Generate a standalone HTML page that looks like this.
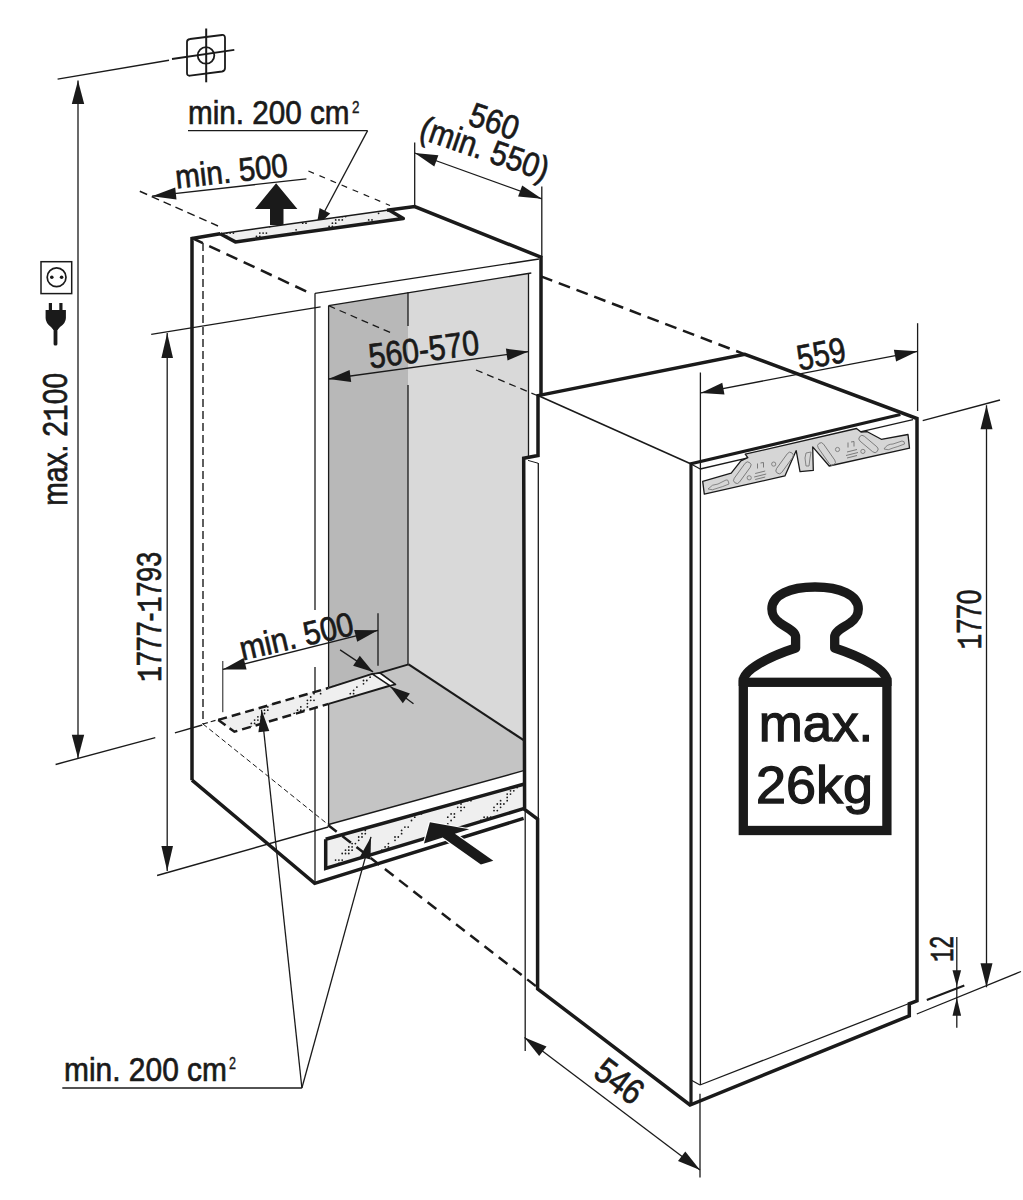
<!DOCTYPE html>
<html><head><meta charset="utf-8"><style>
html,body{margin:0;padding:0;background:#fff;}
svg{display:block;}
text{font-family:"Liberation Sans",sans-serif;fill:#1a1a1a;stroke:#1a1a1a;stroke-width:0.7px;}
.m{font-family:"Liberation Mono",monospace;}
</style></head><body>
<svg width="1023" height="1200" viewBox="0 0 1023 1200">
<polygon points="408.0,292.2 528.5,273.0 528.5,458.0 523.5,458.0 523.5,740.2 408.6,664.4" fill="#d9d9d9" stroke="none" stroke-width="0" stroke-linejoin="miter"/>
<polygon points="328.6,305.7 408.0,292.2 408.6,664.4 328.4,688.0" fill="#b8b8b8" stroke="none" stroke-width="0" stroke-linejoin="miter"/>
<polygon points="328.4,688.0 408.6,664.4 523.6,740.2 523.6,770.7 328.6,824.5" fill="#c4c4c4" stroke="none" stroke-width="0" stroke-linejoin="miter"/>
<line x1="328.6" y1="305.7" x2="531.3" y2="273" stroke="#1a1a1a" stroke-width="1.3" stroke-linecap="butt"/>
<line x1="328.6" y1="305.7" x2="328.6" y2="824.5" stroke="#1a1a1a" stroke-width="1.3" stroke-linecap="butt"/>
<line x1="528.5" y1="273" x2="528.5" y2="458" stroke="#1a1a1a" stroke-width="1.3" stroke-linecap="butt"/>
<line x1="408.6" y1="664.4" x2="523.6" y2="740.2" stroke="#1a1a1a" stroke-width="2.2" stroke-linecap="butt"/>
<line x1="328.6" y1="824.5" x2="523.6" y2="770.7" stroke="#1a1a1a" stroke-width="1.3" stroke-linecap="butt"/>
<line x1="408" y1="292.2" x2="408" y2="326" stroke="#1a1a1a" stroke-width="1.3" stroke-linecap="butt"/>
<line x1="408" y1="385" x2="408" y2="664.4" stroke="#1a1a1a" stroke-width="1.3" stroke-linecap="butt"/>
<line x1="328.6" y1="305.7" x2="390.5" y2="332.6" stroke="#1a1a1a" stroke-width="1.3" stroke-linecap="butt" stroke-dasharray="7,5"/>
<line x1="476" y1="370" x2="538" y2="395.8" stroke="#1a1a1a" stroke-width="1.3" stroke-linecap="butt" stroke-dasharray="7,5"/>
<line x1="57.6" y1="79.1" x2="169" y2="60.3" stroke="#1a1a1a" stroke-width="1.4" stroke-linecap="butt"/>
<line x1="172" y1="59" x2="234.3" y2="49.8" stroke="#1a1a1a" stroke-width="1.8" stroke-linecap="butt"/>
<path d="M190,39 L222,35 Q225,34.6 225,38 L225,68 Q225,71 222,71.5 L190,75.7 Q187,76 187,73 L187,42 Q187,39.3 190,39 Z" fill="none" stroke="#1a1a1a" stroke-width="1.8" stroke-linejoin="miter" stroke-linecap="butt"/>
<line x1="206.2" y1="28.5" x2="206.2" y2="82.3" stroke="#1a1a1a" stroke-width="2" stroke-linecap="butt"/>
<circle cx="206" cy="55.4" r="8.3" fill="none" stroke="#1a1a1a" stroke-width="1.8"/>
<line x1="78" y1="80.6" x2="78" y2="758.2" stroke="#1a1a1a" stroke-width="1.3" stroke-linecap="butt"/>
<polygon points="78.0,80.6 84.2,104.1 71.8,104.1" fill="#1a1a1a" stroke="none" stroke-width="0" stroke-linejoin="miter"/>
<polygon points="78.0,758.2 71.8,734.7 84.2,734.7" fill="#1a1a1a" stroke="none" stroke-width="0" stroke-linejoin="miter"/>
<text transform="translate(66.6,439.3) rotate(-90)" font-size="35" text-anchor="middle" font-weight="normal" textLength="133" lengthAdjust="spacingAndGlyphs">max. 2<tspan class="m">1</tspan>00</text>
<line x1="55.6" y1="764.5" x2="155.3" y2="737.7" stroke="#1a1a1a" stroke-width="1.3" stroke-linecap="butt"/>
<line x1="174.9" y1="732.8" x2="202.3" y2="725" stroke="#1a1a1a" stroke-width="1.3" stroke-linecap="butt"/>
<rect x="41" y="261.7" width="30.7" height="31.9" fill="none" stroke="#1a1a1a" stroke-width="1.5"/>
<circle cx="56.6" cy="277.3" r="9.4" fill="none" stroke="#1a1a1a" stroke-width="1.7"/>
<circle cx="51.8" cy="277.3" r="1.8" fill="#1a1a1a"/><circle cx="61.6" cy="277.3" r="1.8" fill="#1a1a1a"/>
<rect x="48.8" y="303" width="3.2" height="9" fill="#1a1a1a"/><rect x="59.3" y="303" width="3.2" height="9" fill="#1a1a1a"/>
<path d="M45.6,310 L65.9,310 L65.9,318 Q65.9,323 60,327 L57.5,330 L53.5,330 L51,327 Q45.6,323 45.6,318 Z" fill="#1a1a1a" stroke="#1a1a1a" stroke-width="0" stroke-linejoin="miter" stroke-linecap="butt"/>
<rect x="53.6" y="326" width="3.8" height="19.5" rx="1.5" fill="#1a1a1a"/>
<line x1="151.2" y1="334.4" x2="320.6" y2="306.8" stroke="#1a1a1a" stroke-width="1.3" stroke-linecap="butt"/>
<line x1="157.1" y1="875.5" x2="328.2" y2="827" stroke="#1a1a1a" stroke-width="1.3" stroke-linecap="butt"/>
<line x1="167.2" y1="333" x2="167.2" y2="871" stroke="#1a1a1a" stroke-width="1.3" stroke-linecap="butt"/>
<polygon points="167.2,333.0 173.0,358.0 161.4,358.0" fill="#1a1a1a" stroke="none" stroke-width="0" stroke-linejoin="miter"/>
<polygon points="167.2,871.0 161.4,846.0 173.0,846.0" fill="#1a1a1a" stroke="none" stroke-width="0" stroke-linejoin="miter"/>
<text transform="translate(160.7,617) rotate(-90)" font-size="35" text-anchor="middle" font-weight="normal" textLength="130" lengthAdjust="spacingAndGlyphs"><tspan class="m">1</tspan>777-<tspan class="m">1</tspan>793</text>
<text transform="translate(188,124) rotate(0)" font-size="34" text-anchor="start" font-weight="normal" textLength="161.5" lengthAdjust="spacingAndGlyphs">min. 200 cm</text>
<text transform="translate(352,112.5) rotate(0)" font-size="17" text-anchor="start" font-weight="normal" textLength="7.5" lengthAdjust="spacingAndGlyphs" style="stroke-width:0.4px">2</text>
<line x1="188" y1="130.6" x2="367.6" y2="130.6" stroke="#1a1a1a" stroke-width="1.3" stroke-linecap="butt"/>
<line x1="367.6" y1="130.6" x2="316.4" y2="226.7" stroke="#1a1a1a" stroke-width="1.3" stroke-linecap="butt"/>
<polygon points="316.4,226.7 319.6,208.0 330.2,213.6" fill="#1a1a1a" stroke="none" stroke-width="0" stroke-linejoin="miter"/>
<line x1="139.8" y1="191.3" x2="218" y2="226" stroke="#1a1a1a" stroke-width="1.5" stroke-linecap="butt" stroke-dasharray="8,5"/>
<line x1="308.4" y1="171" x2="390" y2="205.5" stroke="#1a1a1a" stroke-width="1.2" stroke-linecap="butt" stroke-dasharray="6,6"/>
<line x1="152" y1="196.2" x2="306.4" y2="178.8" stroke="#1a1a1a" stroke-width="1.3" stroke-linecap="butt"/>
<polygon points="152.0,196.2 175.2,187.6 176.5,199.5" fill="#1a1a1a" stroke="none" stroke-width="0" stroke-linejoin="miter"/>
<text transform="translate(232.7,182.3) rotate(-6.3)" font-size="33" text-anchor="middle" font-weight="normal" textLength="113" lengthAdjust="spacingAndGlyphs">min. 500</text>
<polygon points="276.1,183.2 297.4,208.9 283.5,208.9 283.5,225.0 270.0,225.0 270.0,208.9 255.0,208.9" fill="#1a1a1a" stroke="none" stroke-width="0" stroke-linejoin="miter"/>
<line x1="414.7" y1="142.5" x2="414.7" y2="206.6" stroke="#1a1a1a" stroke-width="1.3" stroke-linecap="butt"/>
<line x1="541.8" y1="186.5" x2="541.8" y2="257.2" stroke="#1a1a1a" stroke-width="1.3" stroke-linecap="butt"/>
<line x1="414.7" y1="153" x2="541.8" y2="198.8" stroke="#1a1a1a" stroke-width="1.3" stroke-linecap="butt"/>
<polygon points="414.7,153.0 438.4,155.2 434.3,166.4" fill="#1a1a1a" stroke="none" stroke-width="0" stroke-linejoin="miter"/>
<polygon points="541.8,198.8 518.1,196.6 522.2,185.4" fill="#1a1a1a" stroke="none" stroke-width="0" stroke-linejoin="miter"/>
<text transform="translate(490.5,132.5) rotate(19)" font-size="34" text-anchor="middle" font-weight="normal" textLength="50" lengthAdjust="spacingAndGlyphs">560</text>
<text transform="translate(481,159.5) rotate(19)" font-size="34" text-anchor="middle" font-weight="normal" textLength="134" lengthAdjust="spacingAndGlyphs">(min. 550)</text>
<polygon points="220.2,233.7 235.4,241.9 403.3,218.5 389.0,210.0" fill="#efefef" stroke="none" stroke-width="0" stroke-linejoin="miter"/>
<clipPath id="cp1"><polygon points="220.2,233.7 235.4,241.9 403.3,218.5 389.0,210.0"/></clipPath><g clip-path="url(#cp1)" fill="#1a1a1a"><circle cx="223.5" cy="210.0" r="0.9"/><circle cx="249.9" cy="210.0" r="0.9"/><circle cx="253.2" cy="210.0" r="0.9"/><circle cx="282.9" cy="210.0" r="0.9"/><circle cx="315.9" cy="210.0" r="0.9"/><circle cx="348.9" cy="210.0" r="0.9"/><circle cx="352.2" cy="210.0" r="0.9"/><circle cx="378.6" cy="210.0" r="0.9"/><circle cx="381.9" cy="210.0" r="0.9"/><circle cx="220.2" cy="213.3" r="0.9"/><circle cx="249.9" cy="213.3" r="0.9"/><circle cx="253.2" cy="213.3" r="0.9"/><circle cx="279.6" cy="213.3" r="0.9"/><circle cx="282.9" cy="213.3" r="0.9"/><circle cx="312.6" cy="213.3" r="0.9"/><circle cx="342.3" cy="213.3" r="0.9"/><circle cx="345.6" cy="213.3" r="0.9"/><circle cx="378.6" cy="213.3" r="0.9"/><circle cx="243.3" cy="216.6" r="0.9"/><circle cx="246.6" cy="216.6" r="0.9"/><circle cx="249.9" cy="216.6" r="0.9"/><circle cx="276.3" cy="216.6" r="0.9"/><circle cx="279.6" cy="216.6" r="0.9"/><circle cx="309.3" cy="216.6" r="0.9"/><circle cx="312.6" cy="216.6" r="0.9"/><circle cx="339.0" cy="216.6" r="0.9"/><circle cx="342.3" cy="216.6" r="0.9"/><circle cx="345.6" cy="216.6" r="0.9"/><circle cx="243.3" cy="219.9" r="0.9"/><circle cx="246.6" cy="219.9" r="0.9"/><circle cx="273.0" cy="219.9" r="0.9"/><circle cx="306.0" cy="219.9" r="0.9"/><circle cx="309.3" cy="219.9" r="0.9"/><circle cx="335.7" cy="219.9" r="0.9"/><circle cx="339.0" cy="219.9" r="0.9"/><circle cx="342.3" cy="219.9" r="0.9"/><circle cx="368.7" cy="219.9" r="0.9"/><circle cx="372.0" cy="219.9" r="0.9"/><circle cx="401.7" cy="219.9" r="0.9"/><circle cx="236.7" cy="223.2" r="0.9"/><circle cx="240.0" cy="223.2" r="0.9"/><circle cx="243.3" cy="223.2" r="0.9"/><circle cx="273.0" cy="223.2" r="0.9"/><circle cx="302.7" cy="223.2" r="0.9"/><circle cx="306.0" cy="223.2" r="0.9"/><circle cx="332.4" cy="223.2" r="0.9"/><circle cx="335.7" cy="223.2" r="0.9"/><circle cx="365.4" cy="223.2" r="0.9"/><circle cx="368.7" cy="223.2" r="0.9"/><circle cx="233.4" cy="226.5" r="0.9"/><circle cx="236.7" cy="226.5" r="0.9"/><circle cx="266.4" cy="226.5" r="0.9"/><circle cx="269.7" cy="226.5" r="0.9"/><circle cx="329.1" cy="226.5" r="0.9"/><circle cx="332.4" cy="226.5" r="0.9"/><circle cx="362.1" cy="226.5" r="0.9"/><circle cx="368.7" cy="226.5" r="0.9"/><circle cx="398.4" cy="226.5" r="0.9"/><circle cx="230.1" cy="229.8" r="0.9"/><circle cx="233.4" cy="229.8" r="0.9"/><circle cx="236.7" cy="229.8" r="0.9"/><circle cx="296.1" cy="229.8" r="0.9"/><circle cx="329.1" cy="229.8" r="0.9"/><circle cx="332.4" cy="229.8" r="0.9"/><circle cx="365.4" cy="229.8" r="0.9"/><circle cx="395.1" cy="229.8" r="0.9"/><circle cx="226.8" cy="233.1" r="0.9"/><circle cx="230.1" cy="233.1" r="0.9"/><circle cx="233.4" cy="233.1" r="0.9"/><circle cx="259.8" cy="233.1" r="0.9"/><circle cx="263.1" cy="233.1" r="0.9"/><circle cx="266.4" cy="233.1" r="0.9"/><circle cx="292.8" cy="233.1" r="0.9"/><circle cx="296.1" cy="233.1" r="0.9"/><circle cx="325.8" cy="233.1" r="0.9"/><circle cx="329.1" cy="233.1" r="0.9"/><circle cx="355.5" cy="233.1" r="0.9"/><circle cx="358.8" cy="233.1" r="0.9"/><circle cx="391.8" cy="233.1" r="0.9"/><circle cx="223.5" cy="236.4" r="0.9"/><circle cx="226.8" cy="236.4" r="0.9"/><circle cx="256.5" cy="236.4" r="0.9"/><circle cx="259.8" cy="236.4" r="0.9"/><circle cx="289.5" cy="236.4" r="0.9"/><circle cx="292.8" cy="236.4" r="0.9"/><circle cx="325.8" cy="236.4" r="0.9"/><circle cx="352.2" cy="236.4" r="0.9"/><circle cx="355.5" cy="236.4" r="0.9"/><circle cx="358.8" cy="236.4" r="0.9"/><circle cx="385.2" cy="236.4" r="0.9"/><circle cx="388.5" cy="236.4" r="0.9"/><circle cx="253.2" cy="239.7" r="0.9"/><circle cx="256.5" cy="239.7" r="0.9"/><circle cx="286.2" cy="239.7" r="0.9"/><circle cx="289.5" cy="239.7" r="0.9"/><circle cx="322.5" cy="239.7" r="0.9"/><circle cx="352.2" cy="239.7" r="0.9"/><circle cx="355.5" cy="239.7" r="0.9"/><circle cx="385.2" cy="239.7" r="0.9"/></g>
<line x1="220.2" y1="233.7" x2="389" y2="210.0" stroke="#1a1a1a" stroke-width="1.5" stroke-linecap="butt"/>
<path d="M192,780.2 L192,238.4 L220.2,233.7" fill="none" stroke="#1a1a1a" stroke-width="3.5" stroke-linejoin="miter" stroke-linecap="butt"/>
<path d="M220.2,233.7 L235.4,241.9 L403.3,218.5 L389,210.0" fill="none" stroke="#1a1a1a" stroke-width="3.5" stroke-linejoin="round" stroke-linecap="butt"/>
<path d="M387,210.3 L414.7,206.6 L541,257.2 L541,395" fill="none" stroke="#1a1a1a" stroke-width="3.5" stroke-linejoin="miter" stroke-linecap="butt"/>
<path d="M192,780.2 L314.7,883.3 L523.6,818.4" fill="none" stroke="#1a1a1a" stroke-width="3.5" stroke-linejoin="miter" stroke-linecap="butt"/>
<line x1="192" y1="238" x2="307.6" y2="292" stroke="#1a1a1a" stroke-width="2.5" stroke-linecap="butt" stroke-dasharray="12,7"/>
<line x1="203" y1="243" x2="203" y2="724" stroke="#1a1a1a" stroke-width="1.4" stroke-linecap="butt" stroke-dasharray="8,4"/>
<line x1="203" y1="724" x2="219.9" y2="719.1" stroke="#1a1a1a" stroke-width="1.2" stroke-linecap="butt" stroke-dasharray="5,3"/>
<line x1="203" y1="724" x2="328.2" y2="824.6" stroke="#1a1a1a" stroke-width="1" stroke-linecap="butt" stroke-dasharray="5,3"/>
<line x1="315" y1="293.3" x2="539" y2="259" stroke="#1a1a1a" stroke-width="1.3" stroke-linecap="butt"/>
<line x1="315" y1="293.3" x2="315" y2="610" stroke="#1a1a1a" stroke-width="1.3" stroke-linecap="butt"/>
<line x1="315" y1="667" x2="315" y2="883" stroke="#1a1a1a" stroke-width="1.3" stroke-linecap="butt"/>
<line x1="328.6" y1="379" x2="528.5" y2="351.6" stroke="#1a1a1a" stroke-width="1.3" stroke-linecap="butt"/>
<polygon points="328.6,379.0 349.6,370.1 351.2,382.0" fill="#1a1a1a" stroke="none" stroke-width="0" stroke-linejoin="miter"/>
<polygon points="528.5,351.6 507.5,360.5 505.9,348.6" fill="#1a1a1a" stroke="none" stroke-width="0" stroke-linejoin="miter"/>
<text transform="translate(425.3,361.3) rotate(-7.5)" font-size="35" text-anchor="middle" font-weight="normal" textLength="111" lengthAdjust="spacingAndGlyphs">560-570</text>
<line x1="328.4" y1="688" x2="408.6" y2="664.4" stroke="#1a1a1a" stroke-width="2" stroke-linecap="butt"/>
<polygon points="218.3,719.9 234.4,731.7 389.8,685.7 372.2,673.9" fill="#efefef" stroke="none" stroke-width="0" stroke-linejoin="miter"/>
<clipPath id="cp2"><polygon points="218.3,719.9 234.4,731.7 389.8,685.7 372.2,673.9"/></clipPath><g clip-path="url(#cp2)" fill="#1a1a1a"><circle cx="224.9" cy="673.9" r="0.9"/><circle cx="228.2" cy="673.9" r="0.9"/><circle cx="231.5" cy="673.9" r="0.9"/><circle cx="261.2" cy="673.9" r="0.9"/><circle cx="264.5" cy="673.9" r="0.9"/><circle cx="297.5" cy="673.9" r="0.9"/><circle cx="333.8" cy="673.9" r="0.9"/><circle cx="337.1" cy="673.9" r="0.9"/><circle cx="370.1" cy="673.9" r="0.9"/><circle cx="373.4" cy="673.9" r="0.9"/><circle cx="224.9" cy="677.2" r="0.9"/><circle cx="257.9" cy="677.2" r="0.9"/><circle cx="261.2" cy="677.2" r="0.9"/><circle cx="330.5" cy="677.2" r="0.9"/><circle cx="333.8" cy="677.2" r="0.9"/><circle cx="370.1" cy="677.2" r="0.9"/><circle cx="221.6" cy="680.5" r="0.9"/><circle cx="257.9" cy="680.5" r="0.9"/><circle cx="294.2" cy="680.5" r="0.9"/><circle cx="297.5" cy="680.5" r="0.9"/><circle cx="330.5" cy="680.5" r="0.9"/><circle cx="363.5" cy="680.5" r="0.9"/><circle cx="366.8" cy="680.5" r="0.9"/><circle cx="221.6" cy="683.8" r="0.9"/><circle cx="251.3" cy="683.8" r="0.9"/><circle cx="254.6" cy="683.8" r="0.9"/><circle cx="257.9" cy="683.8" r="0.9"/><circle cx="290.9" cy="683.8" r="0.9"/><circle cx="363.5" cy="683.8" r="0.9"/><circle cx="248.0" cy="687.1" r="0.9"/><circle cx="284.3" cy="687.1" r="0.9"/><circle cx="287.6" cy="687.1" r="0.9"/><circle cx="320.6" cy="687.1" r="0.9"/><circle cx="323.9" cy="687.1" r="0.9"/><circle cx="356.9" cy="687.1" r="0.9"/><circle cx="244.7" cy="690.4" r="0.9"/><circle cx="248.0" cy="690.4" r="0.9"/><circle cx="281.0" cy="690.4" r="0.9"/><circle cx="284.3" cy="690.4" r="0.9"/><circle cx="287.6" cy="690.4" r="0.9"/><circle cx="353.6" cy="690.4" r="0.9"/><circle cx="241.4" cy="693.7" r="0.9"/><circle cx="244.7" cy="693.7" r="0.9"/><circle cx="248.0" cy="693.7" r="0.9"/><circle cx="281.0" cy="693.7" r="0.9"/><circle cx="284.3" cy="693.7" r="0.9"/><circle cx="314.0" cy="693.7" r="0.9"/><circle cx="320.6" cy="693.7" r="0.9"/><circle cx="350.3" cy="693.7" r="0.9"/><circle cx="353.6" cy="693.7" r="0.9"/><circle cx="386.6" cy="693.7" r="0.9"/><circle cx="244.7" cy="697.0" r="0.9"/><circle cx="274.4" cy="697.0" r="0.9"/><circle cx="281.0" cy="697.0" r="0.9"/><circle cx="310.7" cy="697.0" r="0.9"/><circle cx="383.3" cy="697.0" r="0.9"/><circle cx="386.6" cy="697.0" r="0.9"/><circle cx="241.4" cy="700.3" r="0.9"/><circle cx="271.1" cy="700.3" r="0.9"/><circle cx="274.4" cy="700.3" r="0.9"/><circle cx="307.4" cy="700.3" r="0.9"/><circle cx="310.7" cy="700.3" r="0.9"/><circle cx="314.0" cy="700.3" r="0.9"/><circle cx="343.7" cy="700.3" r="0.9"/><circle cx="350.3" cy="700.3" r="0.9"/><circle cx="383.3" cy="700.3" r="0.9"/><circle cx="386.6" cy="700.3" r="0.9"/><circle cx="238.1" cy="703.6" r="0.9"/><circle cx="267.8" cy="703.6" r="0.9"/><circle cx="271.1" cy="703.6" r="0.9"/><circle cx="274.4" cy="703.6" r="0.9"/><circle cx="307.4" cy="703.6" r="0.9"/><circle cx="340.4" cy="703.6" r="0.9"/><circle cx="347.0" cy="703.6" r="0.9"/><circle cx="376.7" cy="703.6" r="0.9"/><circle cx="380.0" cy="703.6" r="0.9"/><circle cx="383.3" cy="703.6" r="0.9"/><circle cx="231.5" cy="706.9" r="0.9"/><circle cx="234.8" cy="706.9" r="0.9"/><circle cx="264.5" cy="706.9" r="0.9"/><circle cx="267.8" cy="706.9" r="0.9"/><circle cx="300.8" cy="706.9" r="0.9"/><circle cx="307.4" cy="706.9" r="0.9"/><circle cx="337.1" cy="706.9" r="0.9"/><circle cx="340.4" cy="706.9" r="0.9"/><circle cx="343.7" cy="706.9" r="0.9"/><circle cx="373.4" cy="706.9" r="0.9"/><circle cx="231.5" cy="710.2" r="0.9"/><circle cx="264.5" cy="710.2" r="0.9"/><circle cx="267.8" cy="710.2" r="0.9"/><circle cx="297.5" cy="710.2" r="0.9"/><circle cx="300.8" cy="710.2" r="0.9"/><circle cx="304.1" cy="710.2" r="0.9"/><circle cx="333.8" cy="710.2" r="0.9"/><circle cx="337.1" cy="710.2" r="0.9"/><circle cx="340.4" cy="710.2" r="0.9"/><circle cx="370.1" cy="710.2" r="0.9"/><circle cx="376.7" cy="710.2" r="0.9"/><circle cx="224.9" cy="713.5" r="0.9"/><circle cx="228.2" cy="713.5" r="0.9"/><circle cx="264.5" cy="713.5" r="0.9"/><circle cx="294.2" cy="713.5" r="0.9"/><circle cx="297.5" cy="713.5" r="0.9"/><circle cx="330.5" cy="713.5" r="0.9"/><circle cx="337.1" cy="713.5" r="0.9"/><circle cx="366.8" cy="713.5" r="0.9"/><circle cx="370.1" cy="713.5" r="0.9"/><circle cx="373.4" cy="713.5" r="0.9"/><circle cx="221.6" cy="716.8" r="0.9"/><circle cx="257.9" cy="716.8" r="0.9"/><circle cx="261.2" cy="716.8" r="0.9"/><circle cx="294.2" cy="716.8" r="0.9"/><circle cx="297.5" cy="716.8" r="0.9"/><circle cx="327.2" cy="716.8" r="0.9"/><circle cx="330.5" cy="716.8" r="0.9"/><circle cx="333.8" cy="716.8" r="0.9"/><circle cx="363.5" cy="716.8" r="0.9"/><circle cx="366.8" cy="716.8" r="0.9"/><circle cx="370.1" cy="716.8" r="0.9"/><circle cx="218.3" cy="720.1" r="0.9"/><circle cx="254.6" cy="720.1" r="0.9"/><circle cx="257.9" cy="720.1" r="0.9"/><circle cx="290.9" cy="720.1" r="0.9"/><circle cx="294.2" cy="720.1" r="0.9"/><circle cx="327.2" cy="720.1" r="0.9"/><circle cx="330.5" cy="720.1" r="0.9"/><circle cx="363.5" cy="720.1" r="0.9"/><circle cx="366.8" cy="720.1" r="0.9"/><circle cx="218.3" cy="723.4" r="0.9"/><circle cx="251.3" cy="723.4" r="0.9"/><circle cx="254.6" cy="723.4" r="0.9"/><circle cx="287.6" cy="723.4" r="0.9"/><circle cx="290.9" cy="723.4" r="0.9"/><circle cx="323.9" cy="723.4" r="0.9"/><circle cx="360.2" cy="723.4" r="0.9"/><circle cx="363.5" cy="723.4" r="0.9"/><circle cx="251.3" cy="726.7" r="0.9"/><circle cx="284.3" cy="726.7" r="0.9"/><circle cx="320.6" cy="726.7" r="0.9"/><circle cx="317.3" cy="730.0" r="0.9"/><circle cx="320.6" cy="730.0" r="0.9"/><circle cx="353.6" cy="730.0" r="0.9"/><circle cx="356.9" cy="730.0" r="0.9"/></g>
<polygon points="372.2,673.9 380.1,673.0 395.5,684.4 389.8,685.7" fill="#fff" stroke="#1a1a1a" stroke-width="1.6" stroke-linejoin="round"/>
<path d="M218.3,719.9 L234.4,731.7 L328.6,703.9" fill="none" stroke="#1a1a1a" stroke-width="2.5" stroke-linejoin="miter" stroke-linecap="butt" stroke-dasharray="9,5"/>
<path d="M218.3,719.9 L328.6,687.9" fill="none" stroke="#1a1a1a" stroke-width="2.5" stroke-linejoin="miter" stroke-linecap="butt" stroke-dasharray="9,5"/>
<path d="M328.6,687.9 L372.2,673.9 M389.8,685.7 L328.6,703.9" fill="none" stroke="#1a1a1a" stroke-width="2.0" stroke-linejoin="miter" stroke-linecap="butt"/>
<line x1="222.8" y1="661" x2="222.8" y2="712.2" stroke="#1a1a1a" stroke-width="1" stroke-linecap="butt"/>
<line x1="378" y1="613.2" x2="378" y2="665.8" stroke="#1a1a1a" stroke-width="1.3" stroke-linecap="butt"/>
<line x1="222.8" y1="669.4" x2="378" y2="630.3" stroke="#1a1a1a" stroke-width="1.3" stroke-linecap="butt"/>
<polygon points="222.8,669.4 243.6,658.0 246.6,669.6" fill="#1a1a1a" stroke="none" stroke-width="0" stroke-linejoin="miter"/>
<polygon points="378.0,630.3 357.2,641.7 354.2,630.1" fill="#1a1a1a" stroke="none" stroke-width="0" stroke-linejoin="miter"/>
<text transform="translate(299,647.5) rotate(-13)" font-size="33.5" text-anchor="middle" font-weight="normal" textLength="116" lengthAdjust="spacingAndGlyphs">min. 500</text>
<line x1="340.1" y1="649.9" x2="373.1" y2="671.9" stroke="#1a1a1a" stroke-width="1.3" stroke-linecap="butt"/>
<polygon points="373.1,671.9 353.1,665.8 359.8,655.8" fill="#1a1a1a" stroke="none" stroke-width="0" stroke-linejoin="miter"/>
<line x1="413.5" y1="703.7" x2="390.2" y2="686.6" stroke="#1a1a1a" stroke-width="1.3" stroke-linecap="butt"/>
<polygon points="390.2,686.6 409.9,693.6 402.8,703.3" fill="#1a1a1a" stroke="none" stroke-width="0" stroke-linejoin="miter"/>
<polygon points="325.7,839.2 523.6,784.2 523.6,808.6 325.7,868.5" fill="#efefef" stroke="none" stroke-width="0" stroke-linejoin="miter"/>
<clipPath id="cp3"><polygon points="325.7,839.2 523.6,784.2 523.6,808.6 325.7,868.5"/></clipPath><g clip-path="url(#cp3)" fill="#1a1a1a"><circle cx="342.2" cy="784.2" r="0.9"/><circle cx="375.2" cy="784.2" r="0.9"/><circle cx="378.5" cy="784.2" r="0.9"/><circle cx="411.5" cy="784.2" r="0.9"/><circle cx="444.5" cy="784.2" r="0.9"/><circle cx="484.1" cy="784.2" r="0.9"/><circle cx="517.1" cy="784.2" r="0.9"/><circle cx="335.6" cy="787.5" r="0.9"/><circle cx="338.9" cy="787.5" r="0.9"/><circle cx="368.6" cy="787.5" r="0.9"/><circle cx="371.9" cy="787.5" r="0.9"/><circle cx="375.2" cy="787.5" r="0.9"/><circle cx="408.2" cy="787.5" r="0.9"/><circle cx="477.5" cy="787.5" r="0.9"/><circle cx="513.8" cy="787.5" r="0.9"/><circle cx="517.1" cy="787.5" r="0.9"/><circle cx="329.0" cy="790.8" r="0.9"/><circle cx="332.3" cy="790.8" r="0.9"/><circle cx="371.9" cy="790.8" r="0.9"/><circle cx="401.6" cy="790.8" r="0.9"/><circle cx="408.2" cy="790.8" r="0.9"/><circle cx="437.9" cy="790.8" r="0.9"/><circle cx="444.5" cy="790.8" r="0.9"/><circle cx="474.2" cy="790.8" r="0.9"/><circle cx="510.5" cy="790.8" r="0.9"/><circle cx="513.8" cy="790.8" r="0.9"/><circle cx="325.7" cy="794.1" r="0.9"/><circle cx="329.0" cy="794.1" r="0.9"/><circle cx="362.0" cy="794.1" r="0.9"/><circle cx="368.6" cy="794.1" r="0.9"/><circle cx="398.3" cy="794.1" r="0.9"/><circle cx="404.9" cy="794.1" r="0.9"/><circle cx="437.9" cy="794.1" r="0.9"/><circle cx="441.2" cy="794.1" r="0.9"/><circle cx="470.9" cy="794.1" r="0.9"/><circle cx="474.2" cy="794.1" r="0.9"/><circle cx="507.2" cy="794.1" r="0.9"/><circle cx="510.5" cy="794.1" r="0.9"/><circle cx="325.7" cy="797.4" r="0.9"/><circle cx="329.0" cy="797.4" r="0.9"/><circle cx="358.7" cy="797.4" r="0.9"/><circle cx="362.0" cy="797.4" r="0.9"/><circle cx="365.3" cy="797.4" r="0.9"/><circle cx="395.0" cy="797.4" r="0.9"/><circle cx="401.6" cy="797.4" r="0.9"/><circle cx="431.3" cy="797.4" r="0.9"/><circle cx="434.6" cy="797.4" r="0.9"/><circle cx="437.9" cy="797.4" r="0.9"/><circle cx="470.9" cy="797.4" r="0.9"/><circle cx="474.2" cy="797.4" r="0.9"/><circle cx="507.2" cy="797.4" r="0.9"/><circle cx="362.0" cy="800.7" r="0.9"/><circle cx="398.3" cy="800.7" r="0.9"/><circle cx="428.0" cy="800.7" r="0.9"/><circle cx="434.6" cy="800.7" r="0.9"/><circle cx="464.3" cy="800.7" r="0.9"/><circle cx="467.6" cy="800.7" r="0.9"/><circle cx="470.9" cy="800.7" r="0.9"/><circle cx="500.6" cy="800.7" r="0.9"/><circle cx="507.2" cy="800.7" r="0.9"/><circle cx="355.4" cy="804.0" r="0.9"/><circle cx="358.7" cy="804.0" r="0.9"/><circle cx="388.4" cy="804.0" r="0.9"/><circle cx="431.3" cy="804.0" r="0.9"/><circle cx="461.0" cy="804.0" r="0.9"/><circle cx="497.3" cy="804.0" r="0.9"/><circle cx="500.6" cy="804.0" r="0.9"/><circle cx="503.9" cy="804.0" r="0.9"/><circle cx="352.1" cy="807.3" r="0.9"/><circle cx="355.4" cy="807.3" r="0.9"/><circle cx="385.1" cy="807.3" r="0.9"/><circle cx="388.4" cy="807.3" r="0.9"/><circle cx="391.7" cy="807.3" r="0.9"/><circle cx="424.7" cy="807.3" r="0.9"/><circle cx="428.0" cy="807.3" r="0.9"/><circle cx="457.7" cy="807.3" r="0.9"/><circle cx="461.0" cy="807.3" r="0.9"/><circle cx="464.3" cy="807.3" r="0.9"/><circle cx="494.0" cy="807.3" r="0.9"/><circle cx="500.6" cy="807.3" r="0.9"/><circle cx="461.0" cy="810.6" r="0.9"/><circle cx="494.0" cy="810.6" r="0.9"/><circle cx="497.3" cy="810.6" r="0.9"/><circle cx="385.1" cy="813.9" r="0.9"/><circle cx="418.1" cy="813.9" r="0.9"/><circle cx="421.4" cy="813.9" r="0.9"/><circle cx="451.1" cy="813.9" r="0.9"/><circle cx="454.4" cy="813.9" r="0.9"/><circle cx="342.2" cy="817.2" r="0.9"/><circle cx="381.8" cy="817.2" r="0.9"/><circle cx="414.8" cy="817.2" r="0.9"/><circle cx="447.8" cy="817.2" r="0.9"/><circle cx="454.4" cy="817.2" r="0.9"/><circle cx="484.1" cy="817.2" r="0.9"/><circle cx="487.4" cy="817.2" r="0.9"/><circle cx="490.7" cy="817.2" r="0.9"/><circle cx="338.9" cy="820.5" r="0.9"/><circle cx="375.2" cy="820.5" r="0.9"/><circle cx="378.5" cy="820.5" r="0.9"/><circle cx="411.5" cy="820.5" r="0.9"/><circle cx="451.1" cy="820.5" r="0.9"/><circle cx="480.8" cy="820.5" r="0.9"/><circle cx="484.1" cy="820.5" r="0.9"/><circle cx="487.4" cy="820.5" r="0.9"/><circle cx="517.1" cy="820.5" r="0.9"/><circle cx="520.4" cy="820.5" r="0.9"/><circle cx="338.9" cy="823.8" r="0.9"/><circle cx="371.9" cy="823.8" r="0.9"/><circle cx="447.8" cy="823.8" r="0.9"/><circle cx="477.5" cy="823.8" r="0.9"/><circle cx="480.8" cy="823.8" r="0.9"/><circle cx="484.1" cy="823.8" r="0.9"/><circle cx="513.8" cy="823.8" r="0.9"/><circle cx="517.1" cy="823.8" r="0.9"/><circle cx="520.4" cy="823.8" r="0.9"/><circle cx="404.9" cy="827.1" r="0.9"/><circle cx="408.2" cy="827.1" r="0.9"/><circle cx="441.2" cy="827.1" r="0.9"/><circle cx="444.5" cy="827.1" r="0.9"/><circle cx="477.5" cy="827.1" r="0.9"/><circle cx="480.8" cy="827.1" r="0.9"/><circle cx="513.8" cy="827.1" r="0.9"/><circle cx="517.1" cy="827.1" r="0.9"/><circle cx="329.0" cy="830.4" r="0.9"/><circle cx="332.3" cy="830.4" r="0.9"/><circle cx="365.3" cy="830.4" r="0.9"/><circle cx="401.6" cy="830.4" r="0.9"/><circle cx="437.9" cy="830.4" r="0.9"/><circle cx="441.2" cy="830.4" r="0.9"/><circle cx="474.2" cy="830.4" r="0.9"/><circle cx="477.5" cy="830.4" r="0.9"/><circle cx="507.2" cy="830.4" r="0.9"/><circle cx="510.5" cy="830.4" r="0.9"/><circle cx="362.0" cy="833.7" r="0.9"/><circle cx="365.3" cy="833.7" r="0.9"/><circle cx="401.6" cy="833.7" r="0.9"/><circle cx="434.6" cy="833.7" r="0.9"/><circle cx="437.9" cy="833.7" r="0.9"/><circle cx="470.9" cy="833.7" r="0.9"/><circle cx="474.2" cy="833.7" r="0.9"/><circle cx="325.7" cy="837.0" r="0.9"/><circle cx="358.7" cy="837.0" r="0.9"/><circle cx="362.0" cy="837.0" r="0.9"/><circle cx="395.0" cy="837.0" r="0.9"/><circle cx="398.3" cy="837.0" r="0.9"/><circle cx="431.3" cy="837.0" r="0.9"/><circle cx="434.6" cy="837.0" r="0.9"/><circle cx="325.7" cy="840.3" r="0.9"/><circle cx="358.7" cy="840.3" r="0.9"/><circle cx="395.0" cy="840.3" r="0.9"/><circle cx="428.0" cy="840.3" r="0.9"/><circle cx="431.3" cy="840.3" r="0.9"/><circle cx="464.3" cy="840.3" r="0.9"/><circle cx="467.6" cy="840.3" r="0.9"/><circle cx="500.6" cy="840.3" r="0.9"/><circle cx="503.9" cy="840.3" r="0.9"/><circle cx="352.1" cy="843.6" r="0.9"/><circle cx="355.4" cy="843.6" r="0.9"/><circle cx="388.4" cy="843.6" r="0.9"/><circle cx="424.7" cy="843.6" r="0.9"/><circle cx="464.3" cy="843.6" r="0.9"/><circle cx="500.6" cy="843.6" r="0.9"/><circle cx="348.8" cy="846.9" r="0.9"/><circle cx="352.1" cy="846.9" r="0.9"/><circle cx="385.1" cy="846.9" r="0.9"/><circle cx="388.4" cy="846.9" r="0.9"/><circle cx="421.4" cy="846.9" r="0.9"/><circle cx="457.7" cy="846.9" r="0.9"/><circle cx="497.3" cy="846.9" r="0.9"/><circle cx="345.5" cy="850.2" r="0.9"/><circle cx="348.8" cy="850.2" r="0.9"/><circle cx="352.1" cy="850.2" r="0.9"/><circle cx="381.8" cy="850.2" r="0.9"/><circle cx="385.1" cy="850.2" r="0.9"/><circle cx="418.1" cy="850.2" r="0.9"/><circle cx="421.4" cy="850.2" r="0.9"/><circle cx="454.4" cy="850.2" r="0.9"/><circle cx="457.7" cy="850.2" r="0.9"/><circle cx="490.7" cy="850.2" r="0.9"/><circle cx="494.0" cy="850.2" r="0.9"/><circle cx="342.2" cy="853.5" r="0.9"/><circle cx="345.5" cy="853.5" r="0.9"/><circle cx="348.8" cy="853.5" r="0.9"/><circle cx="378.5" cy="853.5" r="0.9"/><circle cx="381.8" cy="853.5" r="0.9"/><circle cx="414.8" cy="853.5" r="0.9"/><circle cx="418.1" cy="853.5" r="0.9"/><circle cx="451.1" cy="853.5" r="0.9"/><circle cx="490.7" cy="853.5" r="0.9"/><circle cx="375.2" cy="856.8" r="0.9"/><circle cx="378.5" cy="856.8" r="0.9"/><circle cx="381.8" cy="856.8" r="0.9"/><circle cx="414.8" cy="856.8" r="0.9"/><circle cx="447.8" cy="856.8" r="0.9"/><circle cx="484.1" cy="856.8" r="0.9"/><circle cx="487.4" cy="856.8" r="0.9"/><circle cx="335.6" cy="860.1" r="0.9"/><circle cx="338.9" cy="860.1" r="0.9"/><circle cx="342.2" cy="860.1" r="0.9"/><circle cx="371.9" cy="860.1" r="0.9"/><circle cx="375.2" cy="860.1" r="0.9"/><circle cx="408.2" cy="860.1" r="0.9"/><circle cx="411.5" cy="860.1" r="0.9"/><circle cx="480.8" cy="860.1" r="0.9"/><circle cx="517.1" cy="860.1" r="0.9"/><circle cx="520.4" cy="860.1" r="0.9"/><circle cx="338.9" cy="863.4" r="0.9"/><circle cx="368.6" cy="863.4" r="0.9"/><circle cx="375.2" cy="863.4" r="0.9"/><circle cx="404.9" cy="863.4" r="0.9"/><circle cx="408.2" cy="863.4" r="0.9"/><circle cx="477.5" cy="863.4" r="0.9"/><circle cx="517.1" cy="863.4" r="0.9"/><circle cx="329.0" cy="866.7" r="0.9"/><circle cx="332.3" cy="866.7" r="0.9"/><circle cx="368.6" cy="866.7" r="0.9"/><circle cx="371.9" cy="866.7" r="0.9"/><circle cx="401.6" cy="866.7" r="0.9"/><circle cx="437.9" cy="866.7" r="0.9"/><circle cx="441.2" cy="866.7" r="0.9"/><circle cx="474.2" cy="866.7" r="0.9"/><circle cx="477.5" cy="866.7" r="0.9"/><circle cx="510.5" cy="866.7" r="0.9"/></g>
<path d="M325.7,839.2 L523.6,784.2 M523.6,808.6 L325.7,868.5 L325.7,839.2" fill="none" stroke="#1a1a1a" stroke-width="3.5" stroke-linejoin="miter" stroke-linecap="butt"/>
<path d="M400,857 L523.6,818.4" fill="none" stroke="#1a1a1a" stroke-width="0" stroke-linejoin="miter" stroke-linecap="butt"/>
<line x1="328" y1="825" x2="537" y2="987" stroke="#1a1a1a" stroke-width="2.5" stroke-linecap="butt" stroke-dasharray="11,7"/>
<polygon points="429.9,822.3 469.2,829.3 454.9,833.7 493.3,860.8 480.9,864.5 442.7,837.6 424.0,843.4" fill="#1a1a1a" stroke="#fff" stroke-width="2.2" stroke-linejoin="miter"/>
<polygon points="429.9,822.3 469.2,829.3 454.9,833.7 493.3,860.8 480.9,864.5 442.7,837.6 424.0,843.4" fill="#1a1a1a" stroke="none" stroke-width="0" stroke-linejoin="miter"/>
<line x1="301.9" y1="1088" x2="261.5" y2="709.8" stroke="#1a1a1a" stroke-width="1.3" stroke-linecap="butt"/>
<polygon points="261.5,709.8 269.3,731.1 258.4,732.3" fill="#1a1a1a" stroke="none" stroke-width="0" stroke-linejoin="miter"/>
<line x1="301.9" y1="1088" x2="371" y2="836.9" stroke="#1a1a1a" stroke-width="1.3" stroke-linecap="butt"/>
<polygon points="371.0,836.9 370.5,859.6 359.9,856.7" fill="#1a1a1a" stroke="none" stroke-width="0" stroke-linejoin="miter"/>
<text transform="translate(64,1080.6) rotate(0)" font-size="34" text-anchor="start" font-weight="normal" textLength="163" lengthAdjust="spacingAndGlyphs">min. 200 cm</text>
<text transform="translate(229,1068.5) rotate(0)" font-size="17" text-anchor="start" font-weight="normal" textLength="7" lengthAdjust="spacingAndGlyphs" style="stroke-width:0.4px">2</text>
<line x1="62.3" y1="1088" x2="301.9" y2="1088" stroke="#1a1a1a" stroke-width="1.3" stroke-linecap="butt"/>
<line x1="541" y1="276.3" x2="744.8" y2="354.3" stroke="#1a1a1a" stroke-width="2.5" stroke-linecap="butt" stroke-dasharray="12,7"/>
<path d="M538,395.6 L744.8,354.3 L917,418.5 L917,1000.8 L909.3,1003.8 L909.3,1015.8 L690,1105 L537.6,988.8 L537.6,819.1 L524.6,809.3 L523.7,458.3 L538,455.5 Z" fill="none" stroke="#1a1a1a" stroke-width="3.5" stroke-linejoin="miter" stroke-linecap="butt"/>
<line x1="538" y1="395.6" x2="690.6" y2="463.8" stroke="#1a1a1a" stroke-width="1.6" stroke-linecap="butt"/>
<line x1="538.3" y1="463" x2="538.3" y2="819" stroke="#1a1a1a" stroke-width="1.3" stroke-linecap="butt"/>
<line x1="528" y1="460.4" x2="538" y2="463.2" stroke="#1a1a1a" stroke-width="1" stroke-linecap="butt"/>
<line x1="525.2" y1="809" x2="525.2" y2="1051" stroke="#1a1a1a" stroke-width="1.3" stroke-linecap="butt"/>
<path d="M691,1105 L691,463.8 L900.4,414.5" fill="none" stroke="#1a1a1a" stroke-width="3.2" stroke-linejoin="miter" stroke-linecap="butt"/>
<line x1="690.6" y1="463.8" x2="700.2" y2="469" stroke="#1a1a1a" stroke-width="1.2" stroke-linecap="butt"/>
<line x1="700.2" y1="469" x2="913" y2="419.6" stroke="#1a1a1a" stroke-width="1.3" stroke-linecap="butt"/>
<line x1="700.4" y1="372.5" x2="700.4" y2="1085" stroke="#1a1a1a" stroke-width="1.3" stroke-linecap="butt"/>
<line x1="700" y1="1085" x2="909" y2="1003.5" stroke="#1a1a1a" stroke-width="1.3" stroke-linecap="butt"/>
<line x1="691" y1="1080" x2="700" y2="1085" stroke="#1a1a1a" stroke-width="1.2" stroke-linecap="butt"/>
<polygon points="704.3,494.2 702.7,481.3 731.2,473.2 740.9,460.9 747.8,457.6 745.2,454.2 856.5,428.5 861.0,432.0 867.3,431.7 881.3,439.3 908.0,434.5 909.5,448.2 829.2,466.0 812.7,446.9 813.3,470.4 800.0,471.6 796.2,450.6 784.9,475.9" fill="#d6d6d6" stroke="#1a1a1a" stroke-width="1.3" stroke-linejoin="round"/>
<rect x="-12.5" y="-3.25" width="25" height="6.5" rx="3.25" fill="none" stroke="#7a7a7a" stroke-width="0.9" transform="translate(742.3,472.7) rotate(-54)"/>
<rect x="-12.5" y="-3.25" width="25" height="6.5" rx="3.25" fill="none" stroke="#7a7a7a" stroke-width="0.9" transform="translate(784.6,463) rotate(-54)"/>
<rect x="-13.0" y="-3.25" width="26" height="6.5" rx="3.25" fill="none" stroke="#7a7a7a" stroke-width="0.9" transform="translate(826.5,454) rotate(55)"/>
<rect x="-11.5" y="-3.25" width="23" height="6.5" rx="3.25" fill="none" stroke="#7a7a7a" stroke-width="0.9" transform="translate(868.5,444) rotate(40)"/>
<circle cx="749.2" cy="477.8" r="2.1" fill="none" stroke="#7a7a7a" stroke-width="0.9"/>
<circle cx="773.7" cy="464.1" r="2.1" fill="none" stroke="#7a7a7a" stroke-width="0.9"/>
<circle cx="837.5" cy="449.5" r="2.1" fill="none" stroke="#7a7a7a" stroke-width="0.9"/>
<circle cx="862.9" cy="451.4" r="2.1" fill="none" stroke="#7a7a7a" stroke-width="0.9"/>
<path d="M708,489 Q712,484 718,484 L726,480 Q728,479 728.5,482 L729,484 Q722,487 718,488 Q712,491 708,489 Z" fill="none" stroke="#7a7a7a" stroke-width="0.9"/>
<path d="M884,449 Q887,444 893,444 L902,441 Q905,441 904.5,444 Q897,447 893,448 Q888,451 884,449 Z" fill="none" stroke="#7a7a7a" stroke-width="0.9"/>
<path d="M806,453 L811,452 L810,458 L809,466 L806,466 L805,458 Z" fill="none" stroke="#7a7a7a" stroke-width="0.9"/>
<path d="M754.2,477.0 L766.2,474.0 M755.2,473.5 L765.2,471.0 M755.2,479.5 L765.2,477.0" stroke="#7a7a7a" stroke-width="1" fill="none"/>
<path d="M846,455.5 L858,452.5 M847,452 L857,449.5 M847,458 L857,455.5" stroke="#7a7a7a" stroke-width="1" fill="none"/>
<path d="M757.5,463.5 L757.5,468.5 M760.5,463.0 L763.5,462.5 L763.5,467.5" stroke="#7a7a7a" stroke-width="1" fill="none"/>
<path d="M848,442.5 L848,447.5 M851,442.0 L854,441.5 L854,446.5" stroke="#7a7a7a" stroke-width="1" fill="none"/>
<line x1="917.6" y1="323.2" x2="917.6" y2="411" stroke="#1a1a1a" stroke-width="1.3" stroke-linecap="butt"/>
<line x1="700.8" y1="392.9" x2="917.6" y2="351.3" stroke="#1a1a1a" stroke-width="1.3" stroke-linecap="butt"/>
<polygon points="700.8,392.9 722.3,382.7 724.5,394.5" fill="#1a1a1a" stroke="none" stroke-width="0" stroke-linejoin="miter"/>
<polygon points="917.6,351.3 896.1,361.5 893.9,349.7" fill="#1a1a1a" stroke="none" stroke-width="0" stroke-linejoin="miter"/>
<text transform="translate(823.5,366) rotate(-11)" font-size="36" text-anchor="middle" font-weight="normal" textLength="49" lengthAdjust="spacingAndGlyphs">559</text>
<line x1="922.7" y1="420.6" x2="1000" y2="400" stroke="#1a1a1a" stroke-width="1.3" stroke-linecap="butt"/>
<line x1="986.5" y1="405.3" x2="986.5" y2="987.3" stroke="#1a1a1a" stroke-width="1.3" stroke-linecap="butt"/>
<polygon points="986.5,405.3 992.5,429.3 980.5,429.3" fill="#1a1a1a" stroke="none" stroke-width="0" stroke-linejoin="miter"/>
<polygon points="986.5,987.3 980.5,963.3 992.5,963.3" fill="#1a1a1a" stroke="none" stroke-width="0" stroke-linejoin="miter"/>
<text transform="translate(981,619.5) rotate(-90)" font-size="35" text-anchor="middle" font-weight="normal" textLength="60" lengthAdjust="spacingAndGlyphs"><tspan class="m">1</tspan>770</text>
<line x1="916.8" y1="1014" x2="1021" y2="971.5" stroke="#1a1a1a" stroke-width="1.3" stroke-linecap="butt"/>
<line x1="926.8" y1="1000" x2="964.3" y2="985.5" stroke="#1a1a1a" stroke-width="2" stroke-linecap="butt"/>
<line x1="956.8" y1="937" x2="956.8" y2="1027.8" stroke="#1a1a1a" stroke-width="1.3" stroke-linecap="butt"/>
<polygon points="956.8,986.2 952.5,970.2 961.1,970.2" fill="#1a1a1a" stroke="none" stroke-width="0" stroke-linejoin="miter"/>
<polygon points="956.8,997.8 961.1,1015.8 952.5,1015.8" fill="#1a1a1a" stroke="none" stroke-width="0" stroke-linejoin="miter"/>
<text transform="translate(953,949) rotate(-90)" font-size="34" text-anchor="middle" font-weight="normal" textLength="26" lengthAdjust="spacingAndGlyphs"><tspan class="m">1</tspan>2</text>
<line x1="524.5" y1="1037.5" x2="700" y2="1170" stroke="#1a1a1a" stroke-width="1.3" stroke-linecap="butt"/>
<polygon points="524.5,1037.5 546.5,1046.6 539.2,1056.1" fill="#1a1a1a" stroke="none" stroke-width="0" stroke-linejoin="miter"/>
<polygon points="700.0,1170.0 678.0,1160.9 685.3,1151.4" fill="#1a1a1a" stroke="none" stroke-width="0" stroke-linejoin="miter"/>
<line x1="700" y1="1093.75" x2="700" y2="1177.5" stroke="#1a1a1a" stroke-width="1.3" stroke-linecap="butt"/>
<text transform="translate(612,1091) rotate(37)" font-size="36" text-anchor="middle" font-weight="normal" textLength="51" lengthAdjust="spacingAndGlyphs">546</text>
<path d="M743.3,686 L743.3,681 C743.3,670 768,657 795.6,648 L795.6,637 C795.6,631 787,628 780,623 C774,618.5 771.9,615 771.9,609 C771.9,595 790,587 815,587 C840,587 858.3,595 858.3,609 C858.3,615 856,618.5 850,623 C843,628 834.7,631 834.7,637 L834.7,648 C862,657 886.9,670 886.9,681 L886.9,686" fill="none" stroke="#1a1a1a" stroke-width="9.3" stroke-linejoin="round" stroke-linecap="butt"/>
<rect x="743.3" y="682.3" width="143.6" height="148.2" fill="none" stroke="#1a1a1a" stroke-width="9.3"/>
<text transform="translate(816,740.5) rotate(0)" font-size="52" text-anchor="middle" font-weight="normal" textLength="114.5" lengthAdjust="spacingAndGlyphs" style="stroke-width:1.3px">max.</text>
<text transform="translate(814.5,803.3) rotate(0)" font-size="52" text-anchor="middle" font-weight="normal" textLength="117" lengthAdjust="spacingAndGlyphs" style="stroke-width:1.3px">26kg</text>
</svg></body></html>
